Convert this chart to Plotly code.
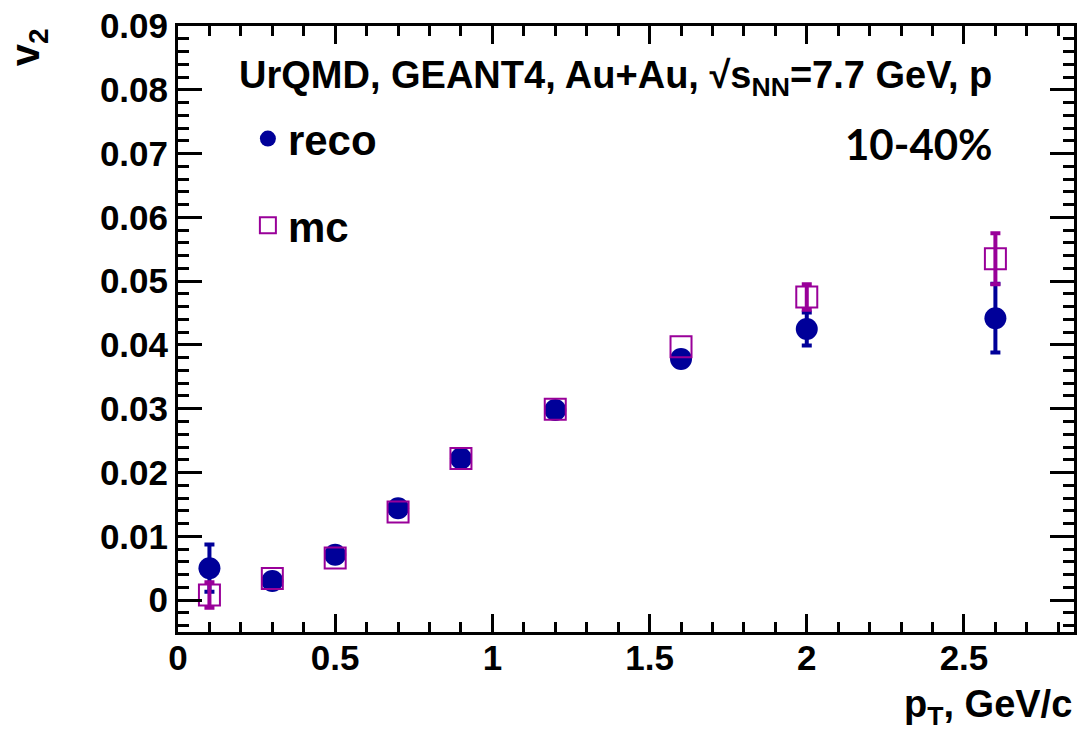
import plotly.graph_objects as go

pt = [0.1, 0.3, 0.5, 0.7, 0.9, 1.2, 1.6, 2.0, 2.6]
v2_reco = [0.0050, 0.0030, 0.0071, 0.0144, 0.0222, 0.0298, 0.0378, 0.0425, 0.0442]
# errors hidden behind the markers in the picture are left out (None)
err_reco = [0.0037, None, None, None, None, None, None, 0.0026, 0.0054]
v2_mc = [0.0008, 0.0034, 0.0066, 0.0138, 0.0222, 0.0299, 0.0397, 0.0475, 0.0535]
err_mc = [0.0020, None, None, None, None, None, None, 0.0020, 0.0040]

BLUE = "#000099"
MAG = "#990099"
FONT = "Liberation Sans"


def visible(xs, ys, es):
    keep = [i for i, e in enumerate(es) if e is not None]
    return [xs[i] for i in keep], [ys[i] for i in keep], [es[i] for i in keep]


fig = go.Figure()
for name, ys, es, color, marker, grp in [
    ("reco", v2_reco, err_reco, BLUE, dict(symbol="circle", size=22, color=BLUE), "a"),
    ("mc", v2_mc, err_mc, MAG,
     dict(symbol="square-open", size=21, color=MAG, line=dict(width=2, color=MAG)), "b"),
]:
    ex, ey, ee = visible(pt, ys, es)
    fig.add_trace(go.Scatter(
        x=ex, y=ey, mode="markers", showlegend=False, hoverinfo="skip", legendgroup=grp,
        marker=dict(size=1, opacity=0, color=color),
        error_y=dict(type="data", array=ee, color=color, thickness=4, width=5),
    ))
    fig.add_trace(go.Scatter(
        x=pt, y=ys, mode="markers", name=name, legendgroup=grp, marker=marker,
    ))

axis_common = dict(
    showgrid=False, zeroline=False, showline=True, linecolor="black", linewidth=3,
    mirror="allticks", ticks="inside", tickcolor="black", tickwidth=3,
    tickfont=dict(family=FONT, size=35, color="black", weight="bold"),
)
fig.update_xaxes(**axis_common, range=[0, 2.85], dtick=0.5, tick0=0, ticklen=18,
                 ticklabelstandoff=-7,
                 minor=dict(dtick=0.1, ticklen=10, tickwidth=3, tickcolor="black", ticks="inside"))
fig.update_yaxes(**axis_common, range=[-0.005, 0.09], dtick=0.01, tick0=0, ticklen=24,
                 minor=dict(dtick=0.002, ticklen=11, tickwidth=3, tickcolor="black", ticks="inside"))

fig.update_layout(
    width=1083, height=738,
    margin=dict(l=178, r=6, t=23, b=106),
    paper_bgcolor="white", plot_bgcolor="white",
    showlegend=True,
    legend=dict(x=0.078, y=0.87, xanchor="left", yanchor="top",
                font=dict(family=FONT, size=42, color="black", weight="bold"),
                bgcolor="rgba(0,0,0,0)", traceorder="grouped", tracegroupgap=29,
                itemsizing="trace"),
    annotations=[
        dict(text="UrQMD, GEANT4, Au+Au, √s<sub>NN</sub>=7.7 GeV, p",
             xref="paper", yref="paper", x=0.066, y=0.915, xanchor="left", yanchor="middle",
             showarrow=False, font=dict(family=FONT, size=38, color="black", weight="bold")),
        dict(text="10-40%", xref="paper", yref="paper", x=0.912, y=0.805,
             xanchor="right", yanchor="middle", showarrow=False,
             font=dict(family="Lato", size=42, color="black", weight="bold")),
        dict(text="v<sub>2</sub>", xref="paper", yref="paper", x=-0.167, y=1.0,
             xanchor="center", yanchor="top", textangle=-90, showarrow=False,
             font=dict(family=FONT, size=40, color="black", weight="bold")),
        dict(text="p<sub>T</sub>, GeV/c", xref="paper", yref="paper", x=1.0, y=-0.123,
             xanchor="right", yanchor="middle", showarrow=False,
             font=dict(family=FONT, size=38, color="black", weight="bold")),
    ],
)

fig.write_html("out.html")
